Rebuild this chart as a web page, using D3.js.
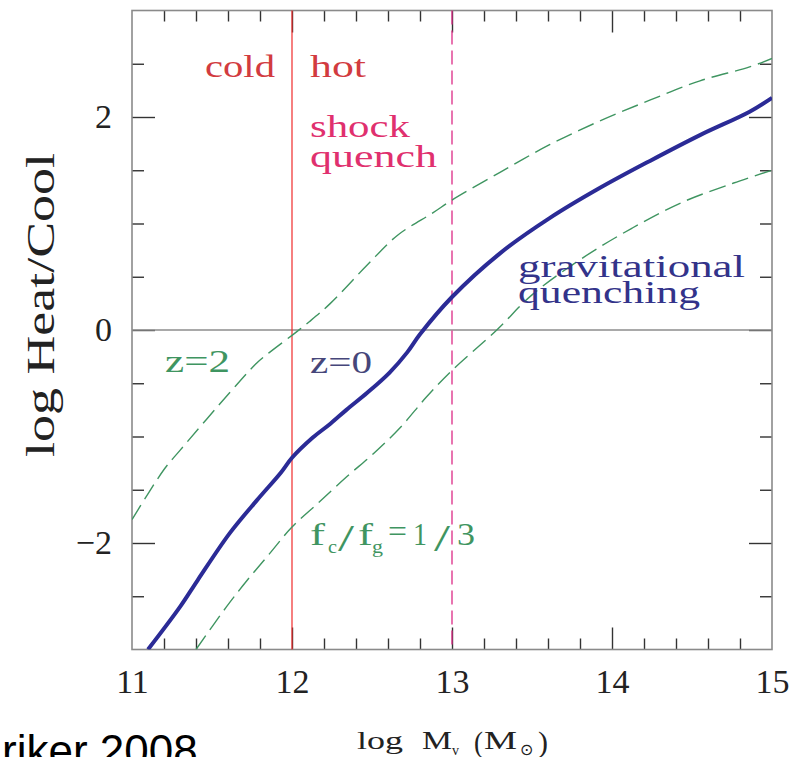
<!DOCTYPE html>
<html>
<head>
<meta charset="utf-8">
<script src="https://cdn.jsdelivr.net/npm/d3@7/dist/d3.min.js"></script>
<style>
  body { margin: 0; background: #fff; }
  svg { display: block; }
</style>
</head>
<body>
<div id="chart"></div>
<script>
// tick labels
var xMajor = [11, 12, 13, 14, 15];
var yMajor = [-2, 0, 2];

// z=0 curve (solid blue)
var massZ0 = [11.10, 11.30, 11.41, 11.61, 11.78, 11.93, 12.00, 12.13, 12.24, 12.34, 12.47, 12.61, 12.72, 12.80, 13.00, 13.30, 13.61, 13.92, 14.24, 14.55, 14.86, 15.00];
var heatZ0 = [-3.00, -2.60, -2.35, -1.91, -1.60, -1.34, -1.20, -1.01, -0.88, -0.75, -0.59, -0.40, -0.21, -0.04, 0.31, 0.72, 1.05, 1.33, 1.59, 1.83, 2.05, 2.18];

// z=2 curve (upper dashed green)
var massZ2 = [11.00, 11.20, 11.30, 11.61, 11.78, 11.86, 12.00, 12.11, 12.24, 12.47, 12.66, 12.88, 13.00, 13.30, 13.61, 13.92, 14.24, 14.55, 14.86, 15.00];
var heatZ2 = [-1.78, -1.31, -1.13, -0.59, -0.31, -0.21, -0.05, 0.08, 0.25, 0.61, 0.89, 1.10, 1.22, 1.48, 1.74, 1.96, 2.16, 2.34, 2.47, 2.55];

// fc/fg=1/3 curve (lower dashed green)
var massFc = [11.40, 11.59, 11.72, 11.86, 12.00, 12.16, 12.34, 12.51, 12.68, 12.84, 13.00, 13.28, 13.50, 13.82, 14.13, 14.44, 14.76, 15.00];
var heatFc = [-3.00, -2.60, -2.35, -2.10, -1.85, -1.63, -1.38, -1.16, -0.91, -0.63, -0.38, 0.00, 0.33, 0.68, 0.96, 1.20, 1.38, 1.50];

// vertical markers
var coldHotMass = 12;
var shockMass = 13;

var width = 805;
var height = 757;
var plotLeft = 132, plotRight = 772, plotTop = 10.5, plotBottom = 649.5;
var serif = '"Liberation Serif", "Times New Roman", serif';

var svg = d3.select('#chart')
            .append('svg')
            .attr('width', width)
            .attr('height', height);

var x = d3.scaleLinear().domain([11, 15]).range([plotLeft, plotRight]);
var y = d3.scaleLinear().domain([-3, 3]).range([plotBottom, plotTop]);

svg.append('clipPath')
   .attr('id', 'plot-clip')
   .append('rect')
   .attr('x', plotLeft).attr('y', plotTop)
   .attr('width', plotRight - plotLeft).attr('height', plotBottom - plotTop);

var xMinor = d3.range(11.2, 14.9, 0.2).filter(v => Math.abs(v - Math.round(v)) > 0.01);
var yMinor = d3.range(-2.5, 3, 0.5).filter(v => Math.abs(v / 2 - Math.round(v / 2)) > 0.01);

// draws one set of ticks through a d3 axis
function tickSet(axisFn, scale, values, size, tx, ty, labels) {
  var axis = axisFn(scale)
             .tickValues(values)
             .tickSizeInner(size)
             .tickSizeOuter(0);
  if (labels) {
    axis.tickPadding(labels).tickFormat(d3.format('d'));
  } else {
    axis.tickFormat('');
  }
  var g = svg.append('g')
             .attr('transform', `translate(${tx},${ty})`)
             .call(axis);
  g.select('.domain').remove();
  g.selectAll('line').attr('stroke', '#333').attr('stroke-width', 1.4);
  g.selectAll('text')
   .attr('font-family', serif)
   .attr('font-size', 34)
   .attr('fill', '#222');
  return g;
}

// bottom / top
tickSet(d3.axisBottom, x, xMajor.slice(1, -1), -22, 0, plotBottom, 0);
tickSet(d3.axisBottom, x, xMinor, -11, 0, plotBottom, 0);
tickSet(d3.axisTop, x, xMajor.slice(1, -1), -22, 0, plotTop, 0);
tickSet(d3.axisTop, x, xMinor, -11, 0, plotTop, 0);
// labels only
var xl = tickSet(d3.axisBottom, x, xMajor, 0, 0, plotBottom, 19);
xl.selectAll('line').remove();

// left / right
tickSet(d3.axisLeft, y, yMajor, -23, plotLeft, 0, 0);
tickSet(d3.axisLeft, y, yMinor, -12, plotLeft, 0, 0);
tickSet(d3.axisRight, y, yMajor, -23, plotRight, 0, 0);
tickSet(d3.axisRight, y, yMinor, -12, plotRight, 0, 0);
var yl = tickSet(d3.axisLeft, y, yMajor, 0, plotLeft, 0, 20);
yl.selectAll('line').remove();

// frame
svg.append('rect')
   .attr('x', plotLeft).attr('y', plotTop)
   .attr('width', plotRight - plotLeft).attr('height', plotBottom - plotTop)
   .attr('fill', 'none')
   .attr('stroke', '#8a8a8a')
   .attr('stroke-width', 1.6);

// zero line
svg.append('line')
   .attr('x1', x(11)).attr('x2', x(15))
   .attr('y1', y(0)).attr('y2', y(0))
   .attr('stroke', '#8c8c8c')
   .attr('stroke-width', 1.6);

// cold/hot boundary
svg.append('line')
   .attr('x1', x(coldHotMass)).attr('x2', x(coldHotMass))
   .attr('y1', y(3)).attr('y2', y(-3))
   .attr('stroke', '#f02a2a')
   .attr('stroke-width', 1.2);

// shock quench boundary
svg.append('line')
   .attr('x1', x(shockMass)).attr('x2', x(shockMass))
   .attr('y1', y(3)).attr('y2', y(-3))
   .attr('stroke', '#dc2a86')
   .attr('stroke-width', 1.3)
   .attr('stroke-dasharray', '14,6');

var line = d3.line()
             .x(d => x(d[0]))
             .y(d => y(d[1]))
             .curve(d3.curveCatmullRom.alpha(0.5));

var plot = svg.append('g').attr('clip-path', 'url(#plot-clip)');

plot.append('path')
    .datum(d3.zip(massZ2, heatZ2))
    .attr('d', line)
    .attr('fill', 'none')
    .attr('stroke', '#3f9561')
    .attr('stroke-width', 1.4)
    .attr('stroke-dasharray', '17,7');

plot.append('path')
    .datum(d3.zip(massFc, heatFc))
    .attr('d', line)
    .attr('fill', 'none')
    .attr('stroke', '#3f9561')
    .attr('stroke-width', 1.4)
    .attr('stroke-dasharray', '17,7');

plot.append('path')
    .datum(d3.zip(massZ0, heatZ0))
    .attr('d', line)
    .attr('fill', 'none')
    .attr('stroke', '#2b2b96')
    .attr('stroke-width', 4);

// text helper: stretches a word to the width it has in the figure
function label(txt, px, py, w, size, color) {
  return svg.append('text')
            .attr('x', px).attr('y', py)
            .attr('font-family', serif)
            .attr('font-size', size)
            .attr('fill', color)
            .attr('textLength', w)
            .attr('lengthAdjust', 'spacingAndGlyphs')
            .text(txt);
}

label('cold', 205, 77, 70, 32, '#d23b3f');
label('hot', 310, 77, 56, 32, '#d23b3f');
label('shock', 310, 137, 100, 32, '#e0306e');
label('quench', 310, 167, 127, 32, '#e0306e');
label('gravitational', 518, 277, 227, 32, '#33338a');
label('quenching', 518, 303, 182, 32, '#33338a');
label('z=2', 165, 372, 65, 31, '#3f9561');
label('z=0', 310, 373, 62, 31, '#46467a');

// f_c / f_g = 1/3
label('f', 310, 545, 15, 31, '#3f9561');
label('c', 328, 553, 9, 19, '#3f9561');
label('/', 338, 551, 16, 38, '#3f9561');
label('f', 358, 545, 15, 31, '#3f9561');
label('g', 372, 553, 11, 19, '#3f9561');
label('=', 388, 542, 19, 31, '#3f9561');
label('1', 413, 545, 14, 31, '#3f9561');
label('/', 434, 551, 16, 38, '#3f9561');
label('3', 457, 545, 18, 31, '#3f9561');

// axis titles
svg.append('text')
   .attr('transform', 'translate(54,305) rotate(-90)')
   .attr('text-anchor', 'middle')
   .attr('font-family', serif)
   .attr('font-size', 41)
   .attr('fill', '#222')
   .attr('textLength', 304)
   .attr('lengthAdjust', 'spacingAndGlyphs')
   .text('log Heat/Cool');

label('log', 357, 749, 46, 26, '#222');
label('M', 422, 749, 30, 26, '#222');
label('v', 452, 755, 7, 15, '#222');
label('(', 474, 752, 9, 30, '#222');
label('M', 484, 749, 33, 26, '#222');
label('\u2299', 520, 755, 13, 16, '#222');
label(')', 538, 752, 10, 30, '#222');

// slide caption, cut by the page edge
svg.append('text')
   .attr('x', 2).attr('y', 766)
   .attr('font-family', '"Liberation Sans", Arial, sans-serif')
   .attr('font-size', 44)
   .attr('fill', '#000')
   .text('riker 2008');
</script>
</body>
</html>
